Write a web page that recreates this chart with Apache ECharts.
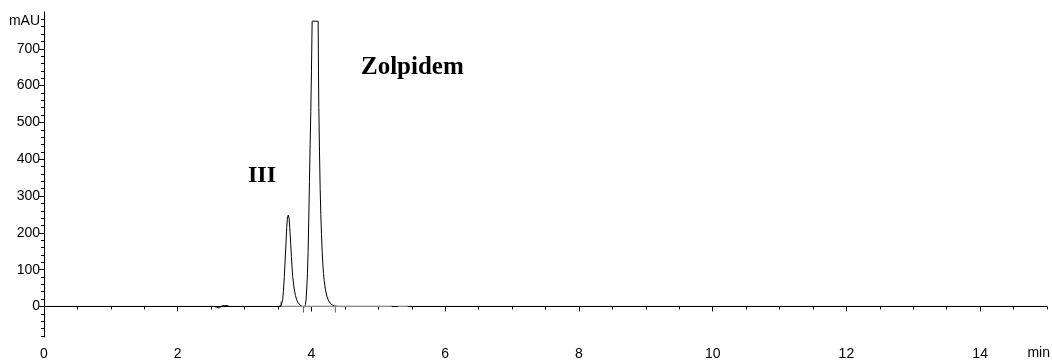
<!DOCTYPE html>
<html>
<head>
<meta charset="utf-8">
<script src="https://cdn.jsdelivr.net/npm/echarts@6/dist/echarts.min.js"></script>
<style>
  html, body { margin: 0; padding: 0; background: #fff; }
  #chart { width: 1052px; height: 362px; }
</style>
</head>
<body>
<div id="chart"></div>
<script>
// Retention time (min) and detector signal (mAU) of the chromatogram trace
const timeMin = [
  0, 2.55, 2.58, 2.60, 2.62, 2.64, 2.66, 2.70, 2.74, 2.77, 2.80,
  3.50, 3.544, 3.555, 3.569, 3.58, 3.594, 3.605, 3.619, 3.63, 3.64, 3.653,
  3.665, 3.675, 3.689, 3.70, 3.719, 3.74, 3.76, 3.779, 3.80, 3.83, 3.86, 3.88,
  3.90, 3.91, 3.92, 3.93, 3.94, 3.95, 3.96, 3.97, 3.98, 3.99, 4.00, 4.01,
  4.10, 4.105, 4.11, 4.12, 4.13, 4.14, 4.15, 4.16, 4.17, 4.18, 4.19, 4.21,
  4.23, 4.25, 4.28, 4.31, 4.35, 4.40, 14.94
];
const signalMAU = [
  0, 0, -2, -5, -4, -1, 1.5, 2.5, 2, 0.5, 0,
  0, 1, 6, 18, 40, 81, 120, 172, 215, 240, 248,
  240, 215, 172, 135, 81, 50, 30, 18, 10, 4, 0, -3,
  -1, 5, 20, 50, 90, 150, 240, 340, 440, 530, 640, 775,
  775, 640, 540, 420, 320, 250, 195, 150, 115, 90, 70, 45,
  28, 18, 9, 4, 1, 0, 0
];

// Integration baselines (start / end time, min)
const baselineA = [3.544, 5.20];
const baselineB = [5.29, 5.44];
// Integration event marks (min)
const eventsUp = [3.544];
const eventsDown = [3.88, 4.357];

// Axis ticks and labels
const xMajorTicks = [0, 2, 4, 6, 8, 10, 12, 14];
const xTickLabels = ['0', '2', '4', '6', '8', '10', '12', '14'];
const yMajorTicks = [0, 100, 200, 300, 400, 500, 600, 700];
const yTickLabels = ['0', '100', '200', '300', '400', '500', '600', '700'];
const xUnit = 'min';
const yUnit = 'mAU';

// Peak names
const peakNames = ['III', 'Zolpidem'];

const xMinorTicks = [];
for (let v = 0.5; v <= 15.001; v += 0.5) {
  if (Math.abs(v % 2) > 1e-6) xMinorTicks.push(+v.toFixed(1));
}
const yMinorTicks = [];
for (let v = -80; v <= 780; v += 20) {
  if (v % 100 !== 0) yMinorTicks.push(v);
}

const trace = timeMin.map((t, i) => [t, signalMAU[i]]);
const labelFont = { fontFamily: 'Liberation Sans, Arial, sans-serif', fontSize: 14, color: '#000' };

const chart = echarts.init(document.getElementById('chart'), null, { renderer: 'canvas' });
chart.setOption({
  animation: false,
  backgroundColor: '#fff',
  grid: { left: 44, right: 5, top: 12, bottom: 25, containLabel: false },
  xAxis: [
    {
      type: 'value', min: 0, max: 15, position: 'bottom',
      axisLine: { show: true, lineStyle: { color: '#000', width: 1 } },
      axisTick: { show: true, customValues: xMajorTicks, length: 5, lineStyle: { color: '#000' } },
      axisLabel: {
        customValues: xMajorTicks, margin: 10, ...labelFont,
        formatter: (v) => xTickLabels[xMajorTicks.indexOf(v)] ?? ''
      },
      splitLine: { show: false }
    },
    {
      type: 'value', min: 0, max: 15, position: 'bottom',
      axisLine: { show: false },
      axisTick: { show: true, customValues: xMinorTicks, length: 3, lineStyle: { color: '#000' } },
      axisLabel: { show: false },
      splitLine: { show: false }
    }
  ],
  yAxis: [
    {
      type: 'value', min: -83, max: 800, position: 'left',
      axisLine: { show: true, lineStyle: { color: '#000', width: 1 } },
      axisTick: { show: true, customValues: yMajorTicks, length: 5, lineStyle: { color: '#000' } },
      axisLabel: {
        customValues: yMajorTicks, margin: 4, ...labelFont,
        formatter: (v) => yTickLabels[yMajorTicks.indexOf(v)] ?? ''
      },
      splitLine: { show: false },
      name: yUnit, nameLocation: 'end', nameGap: -9,
      nameTextStyle: { ...labelFont, align: 'right', verticalAlign: 'middle', padding: [0, 4, 0, 0] }
    },
    {
      type: 'value', min: -83, max: 800, position: 'left',
      axisLine: { show: false },
      axisTick: { show: true, customValues: yMinorTicks, length: 3, lineStyle: { color: '#000' } },
      axisLabel: { show: false },
      splitLine: { show: false }
    }
  ],
  series: [
    {
      type: 'line', xAxisIndex: 0, yAxisIndex: 0, data: trace,
      showSymbol: false, symbol: 'none',
      lineStyle: { color: '#000', width: 1 }, silent: true
    },
    {
      type: 'line', xAxisIndex: 0, yAxisIndex: 0,
      data: baselineA.map((t) => [t, 0]), symbol: 'none',
      lineStyle: { color: '#8a8a8a', width: 1.2 }, silent: true
    },
    {
      type: 'line', xAxisIndex: 0, yAxisIndex: 0,
      data: baselineB.map((t) => [t, 0]), symbol: 'none',
      lineStyle: { color: '#8a8a8a', width: 1.2 }, silent: true
    },
    {
      type: 'scatter', xAxisIndex: 0, yAxisIndex: 0,
      data: eventsUp.map((t) => [t, 0]),
      symbol: 'rect', symbolSize: [1, 5], symbolOffset: [0, -2.5],
      itemStyle: { color: '#333' }, silent: true
    },
    {
      type: 'scatter', xAxisIndex: 0, yAxisIndex: 0,
      data: eventsDown.map((t) => [t, 0]),
      symbol: 'rect', symbolSize: [1, 6], symbolOffset: [0, 3],
      itemStyle: { color: '#333' }, silent: true
    }
  ],
  graphic: [
    {
      type: 'text', right: 2, top: 346,
      style: { text: xUnit, font: '14px "Liberation Sans", Arial, sans-serif', fill: '#000' }
    },
    {
      type: 'text', left: 248, top: 175.5 - 12,
      style: { text: peakNames[0], font: 'bold 24px "Liberation Serif", "Times New Roman", serif', fill: '#000' }
    },
    {
      type: 'text', left: 361, top: 67.5 - 12.5,
      style: { text: peakNames[1], font: 'bold 25px "Liberation Serif", "Times New Roman", serif', fill: '#000' }
    }
  ]
});
</script>
</body>
</html>
